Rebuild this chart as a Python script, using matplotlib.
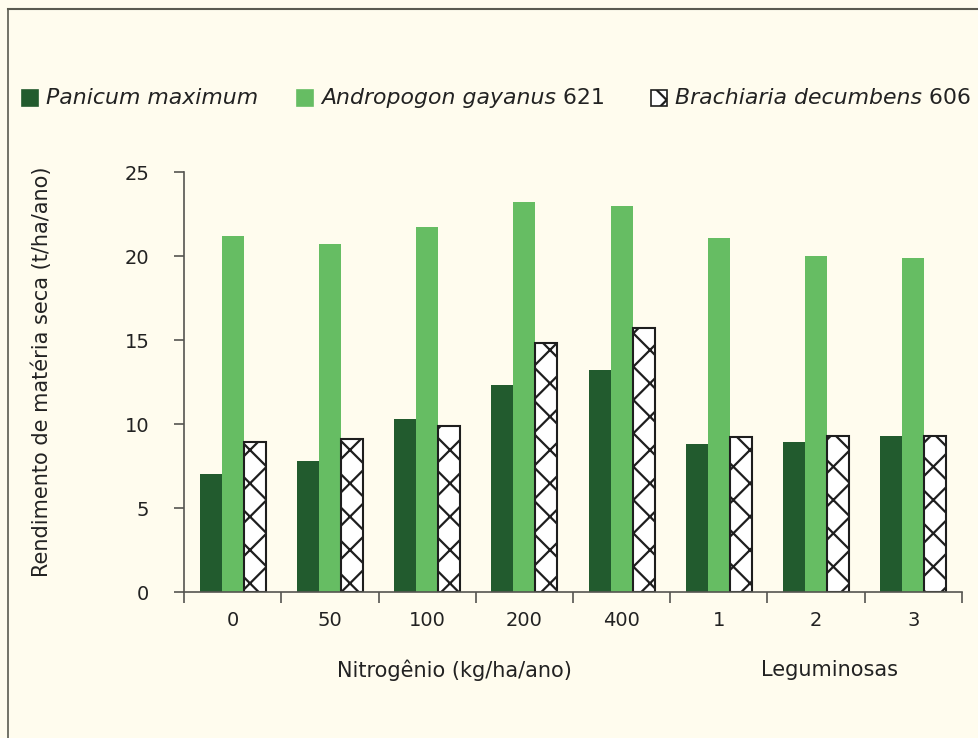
import numpy as np
import matplotlib.pyplot as plt
from matplotlib.patches import Rectangle

categories = ['0', '50', '100', '200', '400', '1', '2', '3']
panicum = [7.0, 7.8, 10.3, 12.3, 13.2, 8.8, 8.9, 9.3]
andropogon = [21.2, 20.7, 21.7, 23.2, 23.0, 21.1, 20.0, 19.9]
brachiaria = [8.9, 9.1, 9.9, 14.8, 15.7, 9.2, 9.3, 9.3]

bg = '#fffcee'
dark = '#225b2e'
light = '#66bd63'
axcol = '#555550'
txt = '#222222'

plt.rcParams['font.family'] = ['DejaVu Sans']
plt.rcParams['hatch.linewidth'] = 1.6

W, H = 979, 738
fig = plt.figure(figsize=(W / 100, H / 100), dpi=100, facecolor=bg)
ax = fig.add_axes([184 / W, 1 - 592 / H, (962 - 184) / W, (592 - 172) / H])
ax.set_facecolor(bg)

x = np.arange(len(categories))
w = 0.226
ax.bar(x - w, panicum, w, color=dark, linewidth=0)
ax.bar(x, andropogon, w, color=light, linewidth=0)
ax.bar(x + w, brachiaria, w, color='white', edgecolor='#1e1e1e', hatch='/\\', linewidth=1.5)

ax.set_xlim(-0.5, len(categories) - 0.5)
ax.set_ylim(0, 25)
ax.set_yticks([0, 5, 10, 15, 20, 25])
ax.set_xticks(x)
ax.set_xticklabels(categories)
ax.set_xticks(np.arange(len(categories) + 1) - 0.5, minor=True)
ax.tick_params(axis='x', which='major', length=0, pad=14, labelsize=14, colors=txt)
ax.tick_params(axis='x', which='minor', length=8, width=1.2, color=axcol, direction='out')
ax.tick_params(axis='y', length=7, width=1.2, color=axcol, pad=18, labelsize=14, labelcolor=txt)
for s in ['top', 'right']:
    ax.spines[s].set_visible(False)
for s in ['left', 'bottom']:
    ax.spines[s].set_color(axcol)
    ax.spines[s].set_linewidth(1.2)

def fx(px):
    return px / W

def fy(py):
    return 1 - py / H

fig.text(fx(42), fy(372), 'Rendimento de matéria seca (t/ha/ano)', rotation=90,
         ha='center', va='center', fontsize=15, color=txt)
fig.text(fx(454), fy(670), 'Nitrogênio (kg/ha/ano)', ha='center', va='center', fontsize=15, color=txt)
fig.text(fx(830), fy(670), 'Leguminosas', ha='center', va='center', fontsize=15, color=txt)

# legend drawn by hand
ly = 98
sq = 16
legend = [
    (22, dark, None, 'Panicum maximum', ''),
    (297, light, None, 'Andropogon gayanus', ' 621'),
    (651, '#1e1e1e', '/\\', 'Brachiaria decumbens', ' 606'),
]
fig.canvas.draw()
r = fig.canvas.get_renderer()
for px, col, hat, name, num in legend:
    rect = Rectangle((fx(px), fy(ly + sq / 2)), sq / W, sq / H, transform=fig.transFigure,
                     facecolor=col, edgecolor=col, linewidth=1.2)
    if hat:
        rect.set_facecolor('white')
        rect.set_edgecolor('#1e1e1e')
        rect.set_hatch(hat)
    fig.patches.append(rect)
    t = fig.text(fx(px + sq + 8), fy(ly), name, style='italic', ha='left', va='center', fontsize=15.8, color=txt)
    if num:
        bb = t.get_window_extent(renderer=r)
        fig.text(bb.x1 / W, fy(ly), num, ha='left', va='center', fontsize=15.8, color=txt)

# frame around the figure
fig.add_artist(plt.Line2D([fx(8), 1], [fy(9), fy(9)], transform=fig.transFigure, color='#5a5a50', lw=1.5))
fig.add_artist(plt.Line2D([fx(8), fx(8)], [fy(9), 0], transform=fig.transFigure, color='#5a5a50', lw=1.2))

fig.savefig('out.png', dpi=100, facecolor=bg)
